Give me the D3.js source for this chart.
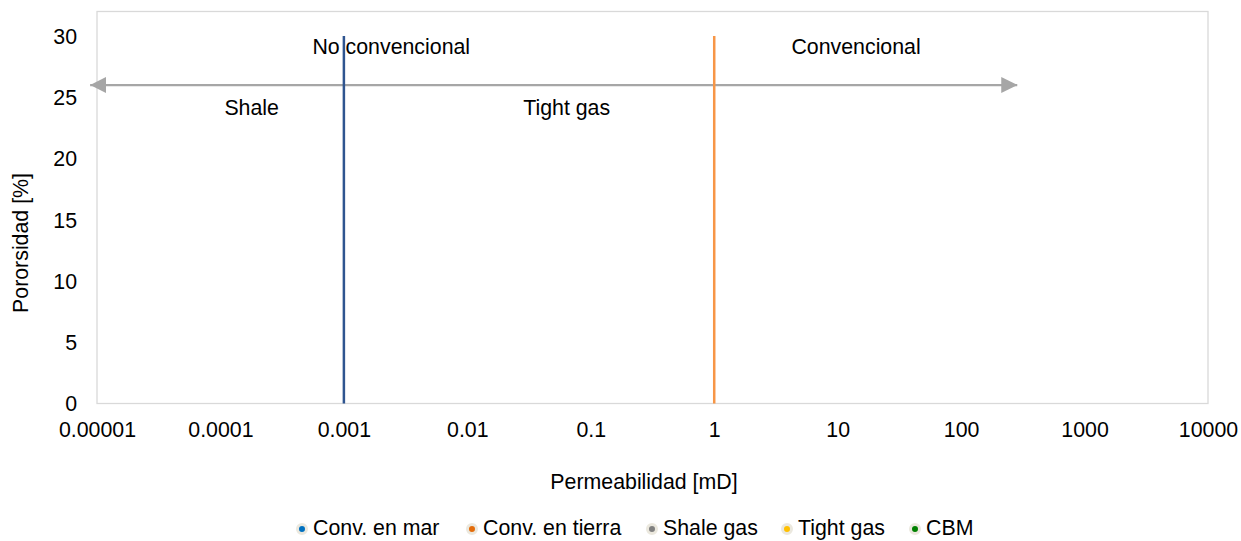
<!DOCTYPE html>
<html>
<head>
<meta charset="utf-8">
<script src="https://cdn.jsdelivr.net/npm/d3@7"></script>
<style>
  html, body { margin: 0; padding: 0; background: #fff; }
  svg { display: block; }
  text { font-family: "Liberation Sans", Arial, sans-serif; fill: #000; }
</style>
</head>
<body>
<svg id="chart" width="1241" height="541"></svg>
<script>
// ---- Data ----
const xTickValues = [1e-5, 1e-4, 1e-3, 1e-2, 1e-1, 1, 10, 100, 1000, 10000];
const xTickLabels = ["0.00001", "0.0001", "0.001", "0.01", "0.1", "1", "10", "100", "1000", "10000"];
const yTickValues = [0, 5, 10, 15, 20, 25, 30];

// vertical boundary lines (permeability, porosity range)
const boundaryNames = ["No convencional / Tight", "Tight / Convencional"];
const boundaryX = [0.001, 1];
const boundaryYRange = [0, 30];
const boundaryColors = ["#2f5590", "#f79646"];

// horizontal double arrow (permeability range at a porosity)
const arrowX = [8.8e-6, 285];
const arrowY = 26;

// text annotations
const annotationText = ["No convencional", "Convencional", "Shale", "Tight gas"];
const annotationX = [0.00242, 14.1, 0.000179, 0.0638];
const annotationY = [29.15, 29.15, 24.2, 24.2];

// legend series
const seriesNames = ["Conv. en mar", "Conv. en tierra", "Shale gas", "Tight gas", "CBM"];
const seriesColors = ["#0070c0", "#e46c0a", "#808080", "#ffc000", "#008000"];

// ---- Chart ----
const FS = "21.33px";
const svg = d3.select("#chart");

const x = d3.scaleLog().domain([1e-5, 1e4]).range([97, 1208]);
const y = d3.scaleLinear().domain([0, 32]).range([403.5, 11.5]);

// plot frame
svg.append("rect")
  .attr("x", x(1e-5)).attr("y", y(32))
  .attr("width", x(1e4) - x(1e-5)).attr("height", y(0) - y(32))
  .attr("fill", "none").attr("stroke", "#d9d9d9").attr("stroke-width", 1.3);

// axes
const xAxis = svg.append("g").attr("transform", `translate(0,${y(0)})`)
  .call(d3.axisBottom(x).tickValues(xTickValues)
    .tickFormat((d, i) => xTickLabels[i]).tickSize(0).tickPadding(18));
xAxis.select(".domain").remove();
xAxis.selectAll("text").style("font-size", FS).attr("fill", "#000");

const yAxis = svg.append("g").attr("transform", `translate(${x(1e-5)},0)`)
  .call(d3.axisLeft(y).tickValues(yTickValues).tickSize(0).tickPadding(20));
yAxis.select(".domain").remove();
yAxis.selectAll("text").style("font-size", FS).attr("fill", "#000").attr("dy", "0.34em");

// axis titles
svg.append("text").attr("x", 644).attr("y", 489)
  .attr("text-anchor", "middle").style("font-size", FS).text("Permeabilidad [mD]");
svg.append("text").attr("transform", "translate(28,243) rotate(-90)")
  .attr("text-anchor", "middle").style("font-size", FS).text("Pororsidad [%]");

// arrow
const defs = svg.append("defs");
defs.append("marker").attr("id", "arrowhead")
  .attr("viewBox", "0 0 10 10").attr("refX", 10).attr("refY", 5)
  .attr("markerUnits", "userSpaceOnUse")
  .attr("markerWidth", 16).attr("markerHeight", 16)
  .attr("orient", "auto-start-reverse")
  .append("path").attr("d", "M0,0 L10,5 L0,10 Z").attr("fill", "#a6a6a6");

svg.append("line")
  .attr("x1", x(arrowX[0])).attr("x2", x(arrowX[1]))
  .attr("y1", y(arrowY)).attr("y2", y(arrowY))
  .attr("stroke", "#a6a6a6").attr("stroke-width", 2.25)
  .attr("marker-start", "url(#arrowhead)").attr("marker-end", "url(#arrowhead)");

// boundary lines
svg.selectAll(".boundary").data(boundaryX).join("line")
  .attr("class", "boundary")
  .attr("x1", d => x(d)).attr("x2", d => x(d))
  .attr("y1", y(boundaryYRange[0])).attr("y2", y(boundaryYRange[1]))
  .attr("stroke", (d, i) => boundaryColors[i]).attr("stroke-width", 2.5);

// annotations
svg.selectAll(".annot").data(annotationText).join("text")
  .attr("class", "annot")
  .attr("x", (d, i) => x(annotationX[i]))
  .attr("y", (d, i) => y(annotationY[i]))
  .attr("dy", "0.35em")
  .attr("text-anchor", "middle").style("font-size", FS)
  .text(d => d);

// legend
const legendMarkerX = [302, 472, 652, 787, 915];
const lg = svg.append("g");
seriesNames.forEach((name, i) => {
  const g = lg.append("g").attr("transform", `translate(${legendMarkerX[i]},529)`);
  g.append("circle").attr("r", 4.5).attr("fill", seriesColors[i])
    .attr("stroke", "#ebe8de").attr("stroke-width", 3);
  g.append("text").attr("x", 11).attr("y", 6).style("font-size", FS).text(name);
});
</script>
</body>
</html>
